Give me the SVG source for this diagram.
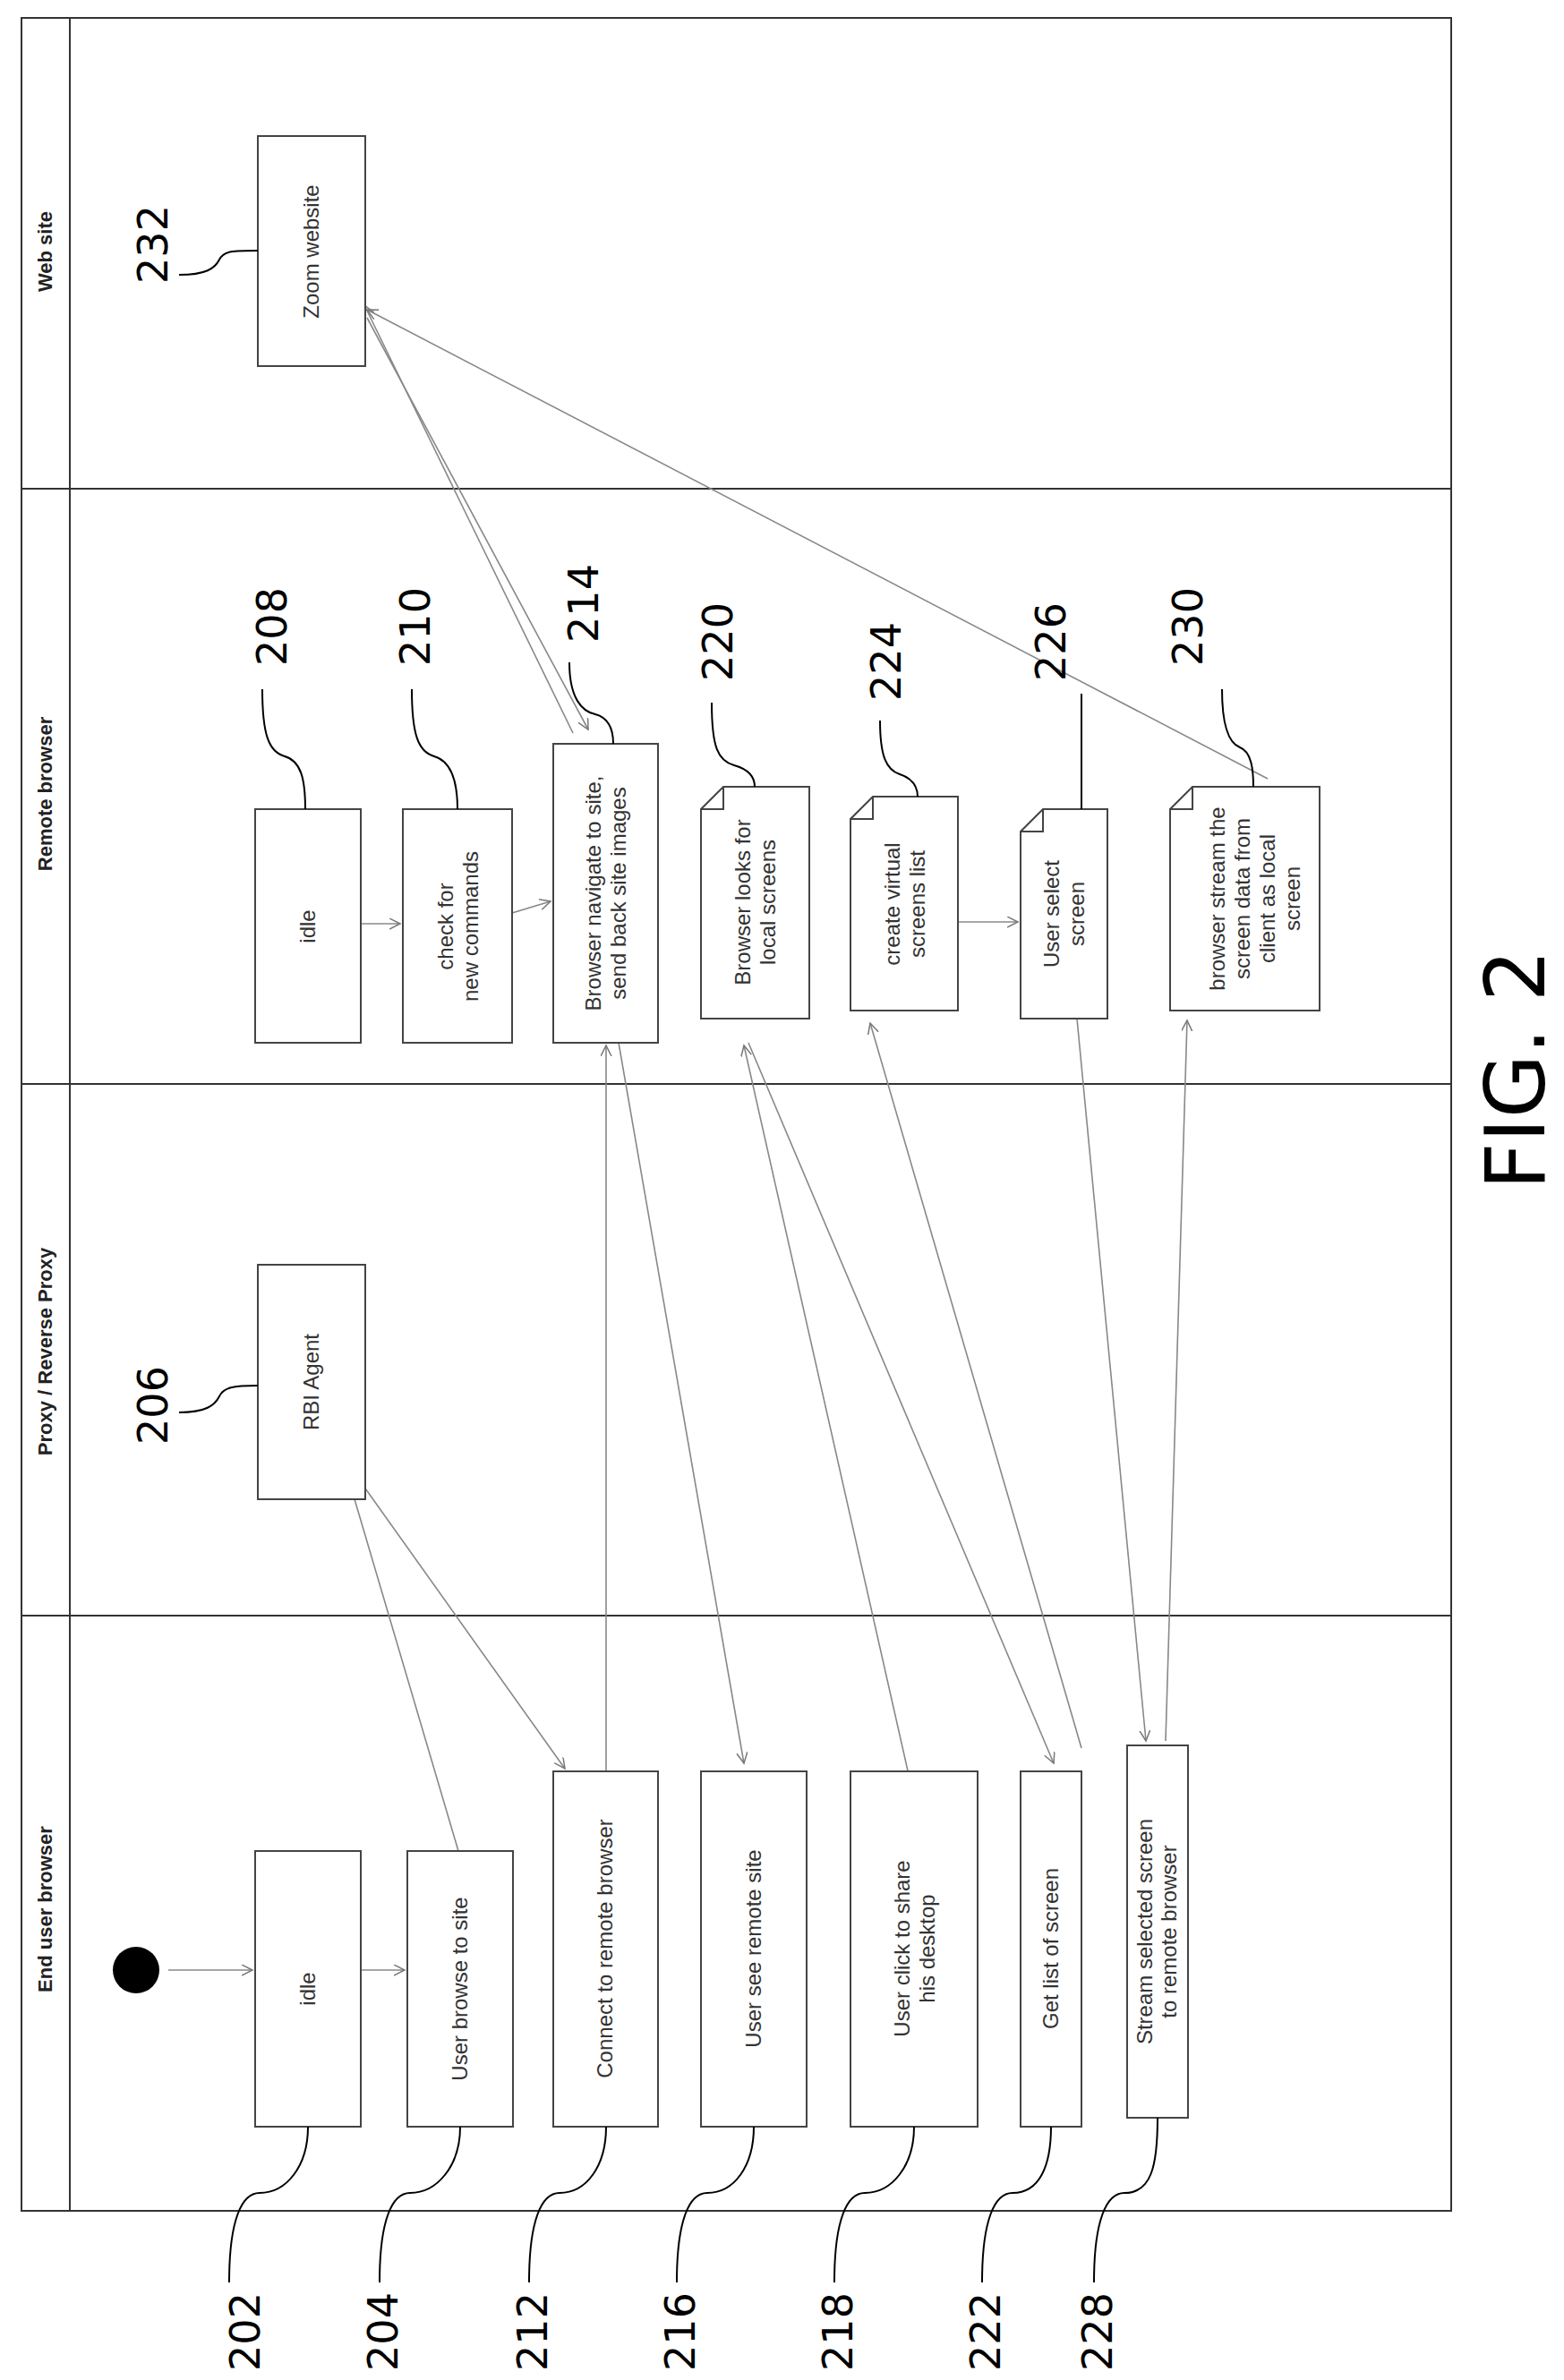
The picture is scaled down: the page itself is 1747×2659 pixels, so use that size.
<svg xmlns="http://www.w3.org/2000/svg" width="1747" height="2659" viewBox="0 0 1747 2659">
<defs>
<style>
.lane{fill:none;stroke:#333;stroke-width:2}
.box{fill:#fff;stroke:#444;stroke-width:2}
.t{font-family:"Liberation Sans",Arial,sans-serif;font-size:24px;fill:#333;text-anchor:middle}
.h{font-family:"Liberation Sans",Arial,sans-serif;font-size:22px;font-weight:bold;fill:#222;text-anchor:middle}
.n{font-family:"DejaVu Sans",sans-serif;font-size:46px;fill:#000;text-anchor:middle}
.c{fill:none;stroke:#888;stroke-width:1.6;marker-end:url(#a)}
.l{fill:none;stroke:#000;stroke-width:2}
</style>
<marker id="a" markerWidth="14" markerHeight="14" refX="12" refY="6" orient="auto" markerUnits="userSpaceOnUse"><path d="M0,0 L12,6 L0,12" fill="none" stroke="#777" stroke-width="1.5"/></marker>
</defs>
<g id="lanes">
<rect class="lane" x="24" y="20" width="1597" height="526"/>
<rect class="lane" x="24" y="546" width="1597" height="665"/>
<rect class="lane" x="24" y="1211" width="1597" height="594"/>
<rect class="lane" x="24" y="1805" width="1597" height="665"/>
<line class="lane" x1="78" y1="20" x2="78" y2="2470"/>
<text class="h" transform="translate(58,281) rotate(-90)">Web site</text>
<text class="h" transform="translate(58,887) rotate(-90)">Remote browser</text>
<text class="h" transform="translate(58,1510) rotate(-90)">Proxy / Reverse Proxy</text>
<text class="h" transform="translate(58,2133) rotate(-90)">End user browser</text>
</g>
<g id="connectors">
<path class="c" d="M188,2201 L282,2201"/>
<path class="c" d="M403,2201 L452,2201"/>
<path class="c" d="M403,1032 L447,1032"/>
<path class="c" d="M572,1020 L615,1007"/>
<path class="c" d="M1070,1030 L1137,1030"/>
<path class="c" d="M512,2068 L386,1641"/>
<path class="c" d="M396,1646 L631,1976"/>
<path class="c" d="M677,1979 L677,1168"/>
<path class="c" d="M691,1165 L831,1970"/>
<path class="c" d="M640,819 L407,341"/>
<path class="c" d="M410,355 L657,815"/>
<path class="c" d="M1416,870 L410,346"/>
<path class="c" d="M1020,2005 L831,1168"/>
<path class="c" d="M836,1165 L1177,1970"/>
<path class="c" d="M1208,1953 L972,1143"/>
<path class="c" d="M1203,1138 L1280,1945"/>
<path class="c" d="M1302,1945 L1326,1140"/>
</g>
<g id="start"><circle cx="152" cy="2201" r="26" fill="#000"/></g>
<g id="n202"><rect class="box" x="285" y="2068" width="118" height="308"/><text class="t" transform="translate(352,2222) rotate(-90)">idle</text></g>
<g id="n204"><rect class="box" x="455" y="2068" width="118" height="308"/><text class="t" transform="translate(522,2222) rotate(-90)">User browse to site</text></g>
<g id="n212"><rect class="box" x="618" y="1979" width="117" height="397"/><text class="t" transform="translate(684,2177) rotate(-90)">Connect to remote browser</text></g>
<g id="n216"><rect class="box" x="783" y="1979" width="118" height="397"/><text class="t" transform="translate(850,2177) rotate(-90)">User see remote site</text></g>
<g id="n218"><rect class="box" x="950" y="1979" width="142" height="397"/><text class="t" transform="translate(1021,2177) rotate(-90)"><tspan x="0" dy="-5">User click to share</tspan><tspan x="0" dy="28">his desktop</tspan></text></g>
<g id="n222"><rect class="box" x="1140" y="1979" width="68" height="397"/><text class="t" transform="translate(1182,2177) rotate(-90)">Get list of screen</text></g>
<g id="n228"><rect class="box" x="1259" y="1950" width="68" height="416"/><text class="t" transform="translate(1293,2158) rotate(-90)"><tspan x="0" dy="-6">Stream selected screen</tspan><tspan x="0" dy="27">to remote browser</tspan></text></g>
<g id="n206"><rect class="box" x="288" y="1413" width="120" height="262"/><text class="t" transform="translate(356,1544) rotate(-90)">RBI Agent</text></g>
<g id="n208"><rect class="box" x="285" y="904" width="118" height="261"/><text class="t" transform="translate(352,1035) rotate(-90)">idle</text></g>
<g id="n210"><rect class="box" x="450" y="904" width="122" height="261"/><text class="t" transform="translate(511,1035) rotate(-90)"><tspan x="0" dy="-5">check for</tspan><tspan x="0" dy="28">new commands</tspan></text></g>
<g id="n214"><rect class="box" x="618" y="831" width="117" height="334"/><text class="t" transform="translate(676,998) rotate(-90)"><tspan x="0" dy="-5">Browser navigate to site,</tspan><tspan x="0" dy="28">send back site images</tspan></text></g>
<g id="n220"><path class="box" d="M808,879 L904,879 L904,1138 L783,1138 L783,904 Z M783,904 L808,904 L808,879"/><text class="t" transform="translate(843,1008) rotate(-90)"><tspan x="0" dy="-5">Browser looks for</tspan><tspan x="0" dy="28">local screens</tspan></text></g>
<g id="n224"><path class="box" d="M975,890 L1070,890 L1070,1129 L950,1129 L950,915 Z M950,915 L975,915 L975,890"/><text class="t" transform="translate(1010,1010) rotate(-90)"><tspan x="0" dy="-5">create virtual</tspan><tspan x="0" dy="28">screens list</tspan></text></g>
<g id="n226"><path class="box" d="M1165,904 L1237,904 L1237,1138 L1140,1138 L1140,929 Z M1140,929 L1165,929 L1165,904"/><text class="t" transform="translate(1188,1021) rotate(-90)"><tspan x="0" dy="-5">User select</tspan><tspan x="0" dy="28">screen</tspan></text></g>
<g id="n230"><path class="box" d="M1332,879 L1474,879 L1474,1129 L1307,1129 L1307,904 Z M1307,904 L1332,904 L1332,879"/><text class="t" transform="translate(1390,1004) rotate(-90)"><tspan x="0" dy="-22">browser stream the</tspan><tspan x="0" dy="28">screen data from</tspan><tspan x="0" dy="28">client as local</tspan><tspan x="0" dy="28">screen</tspan></text></g>
<g id="n232"><rect class="box" x="288" y="152" width="120" height="257"/><text class="t" transform="translate(356,281) rotate(-90)">Zoom website</text></g>
<g id="labels">
<text class="n" transform="translate(290,2605) rotate(-90)">202</text>
<text class="n" transform="translate(444,2605) rotate(-90)">204</text>
<text class="n" transform="translate(611,2605) rotate(-90)">212</text>
<text class="n" transform="translate(776,2605) rotate(-90)">216</text>
<text class="n" transform="translate(952,2605) rotate(-90)">218</text>
<text class="n" transform="translate(1117,2605) rotate(-90)">222</text>
<text class="n" transform="translate(1242,2605) rotate(-90)">228</text>
<path class="l" d="M256,2550 C256,2480 270,2450 290,2450 C320,2450 344,2420 344,2376"/>
<path class="l" d="M424,2550 C424,2480 438,2450 458,2450 C488,2450 514,2420 514,2376"/>
<path class="l" d="M591,2550 C591,2480 605,2450 625,2450 C655,2450 677,2420 677,2376"/>
<path class="l" d="M756,2550 C756,2480 770,2450 790,2450 C820,2450 842,2420 842,2376"/>
<path class="l" d="M932,2550 C932,2480 946,2450 966,2450 C996,2450 1021,2420 1021,2376"/>
<path class="l" d="M1097,2550 C1097,2480 1111,2450 1131,2450 C1161,2450 1174,2420 1174,2376"/>
<path class="l" d="M1222,2550 C1222,2480 1236,2450 1256,2450 C1286,2450 1293,2420 1293,2366"/>
<text class="n" transform="translate(320,700) rotate(-90)">208</text>
<text class="n" transform="translate(480,700) rotate(-90)">210</text>
<text class="n" transform="translate(668,674) rotate(-90)">214</text>
<text class="n" transform="translate(818,717) rotate(-90)">220</text>
<text class="n" transform="translate(1006,739) rotate(-90)">224</text>
<text class="n" transform="translate(1190,717) rotate(-90)">226</text>
<text class="n" transform="translate(1343,700) rotate(-90)">230</text>
<text class="n" transform="translate(187,273) rotate(-90)">232</text>
<text class="n" transform="translate(187,1570) rotate(-90)">206</text>
<path class="l" d="M293,770 C293,820 300,840 318,845 C336,850 341,870 341,904"/>
<path class="l" d="M460,770 C460,820 467,840 485,845 C503,850 511,870 511,904"/>
<path class="l" d="M636,740 C636,780 650,795 665,798 C680,802 685,815 685,831"/>
<path class="l" d="M795,785 C795,835 802,850 820,855 C838,860 843,870 843,879"/>
<path class="l" d="M983,805 C983,845 990,860 1005,865 C1020,870 1025,880 1025,890"/>
<path class="l" d="M1208,775 L1208,904"/>
<path class="l" d="M1365,770 C1365,810 1372,830 1385,835 C1398,840 1400,860 1400,879"/>
<path class="l" d="M200,307 C230,307 240,300 245,290 C250,280 260,280 288,280"/>
<path class="l" d="M200,1578 C230,1578 240,1570 245,1560 C250,1550 260,1548 288,1548"/>
</g>
<text font-family="DejaVu Sans, sans-serif" font-size="92" fill="#000" text-anchor="middle" transform="translate(1725,1195) rotate(-90)">FIG. 2</text>
</svg>
